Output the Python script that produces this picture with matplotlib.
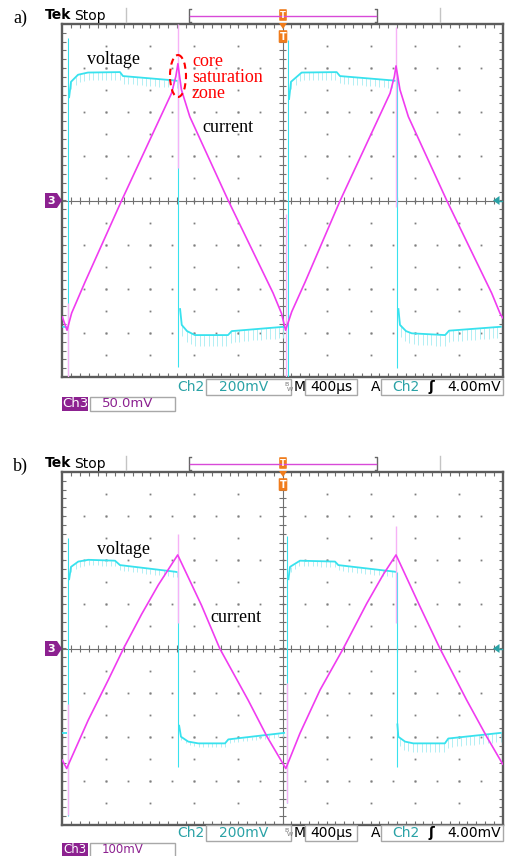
import numpy as np
import matplotlib.pyplot as plt
from matplotlib.patches import Rectangle, Ellipse, Polygon, FancyBboxPatch

W, H = 505, 856

CYAN = '#38e2ee'
CYAN_LIGHT = '#a6ecf2'
MAGENTA = '#f03cf0'
PINK = '#f6b2f6'
TEAL = '#2aa2a6'
PURPLE = '#8c2190'
ORANGE = '#f07c1c'
FRAME = '#5c5c5c'
GRIDC = '#7e7e7e'

# time in microseconds (400 us/div, 10 div), amplitude in screen divisions
# ---------------- panel a) ----------------
a_cur_t = [0, 43, 85, 206, 539, 992, 1031, 1050, 1082, 1158, 1507, 1915, 1991, 2028,
           2084, 2205, 2524, 2977, 3016, 3031, 3067, 3143, 3492, 3900, 3976, 4000]
a_cur_v = [-2.64, -2.94, -2.55, -1.85, 0.0, 2.43, 2.81, 3.10, 2.51, 1.90, 0.0, -2.10, -2.56,
           -2.94, -2.52, -1.85, 0.0, 2.43, 2.81, 3.05, 2.51, 1.90, 0.0, -2.10, -2.56, -2.66]
a_up1_t = [61, 79, 143, 233, 524, 551, 1024, 1046]
a_up1_v = [2.32, 2.69, 2.85, 2.90, 2.91, 2.82, 2.72, 2.71]
a_up2_t = [2059, 2077, 2174, 2492, 2522, 3006, 3026]
a_up2_v = [2.28, 2.69, 2.90, 2.91, 2.82, 2.72, 2.71]
a_lo0_t = [0, 40]
a_lo0_v = [-2.86, -2.87]
a_lo1_t = [1069, 1085, 1133, 1205, 1505, 1539, 2023]
a_lo1_v = [-2.44, -2.82, -2.96, -3.05, -3.05, -2.96, -2.86]
a_lo2_t = [3052, 3067, 3122, 3174, 3477, 3513, 3991]
a_lo2_v = [-2.44, -2.82, -2.96, -3.01, -3.05, -2.95, -2.86]
a_vspike_t = [52, 1054, 2047, 3037]
a_vspike_hi = [3.68, 2.85, 3.64, 2.85]
a_vspike_lo = [-3.96, -3.78, -4.0, -3.80]
a_ispike_t = [52, 1054, 2032, 3031]
a_ispike_hi = [-2.32, 4.0, -0.30, 3.94]
a_ispike_lo = [-4.0, 0.74, -4.0, -0.14]

# ---------------- panel b) ----------------
b_cur_t = [0, 40, 61, 236, 418, 556, 721, 872, 1048, 1069, 1264, 1430, 1688, 1860, 2030,
           2159, 2341, 2552, 2765, 2916, 3031, 3067, 3249, 3430, 3673, 3855, 4000]
b_cur_v = [-2.53, -2.72, -2.60, -1.62, -0.71, 0.0, 0.78, 1.44, 2.12, 2.01, 0.98, 0.0, -1.17,
           -2.00, -2.72, -1.92, -0.94, 0.0, 1.02, 1.68, 2.12, 1.93, 0.95, 0.0, -1.17, -2.00, -2.62]
b_up1_t = [61, 79, 145, 236, 479, 524, 1024, 1046]
b_up1_v = [1.55, 1.85, 1.97, 2.01, 1.99, 1.89, 1.74, 1.73]
b_up2_t = [2053, 2068, 2159, 2477, 2507, 3022, 3031]
b_up2_v = [1.55, 1.85, 1.99, 1.97, 1.89, 1.74, 1.73]
b_lo0_t = [0, 40]
b_lo0_v = [-1.91, -1.91]
b_lo1_t = [1060, 1078, 1144, 1235, 1478, 1508, 2023]
b_lo1_v = [-1.73, -2.00, -2.11, -2.15, -2.15, -2.06, -1.91]
b_lo2_t = [3043, 3052, 3113, 3188, 3475, 3506, 3991]
b_lo2_v = [-1.70, -2.00, -2.11, -2.15, -2.15, -2.04, -1.91]
b_vspike_t = [49, 1048, 2044, 3037]
b_vspike_hi = [2.51, 1.73, 2.54, 1.73]
b_vspike_lo = [-3.80, -2.68, -3.50, -2.68]
b_ispike_t = [52, 1048, 2041, 3031]
b_ispike_hi = [-1.25, 2.60, -0.78, 2.78]
b_ispike_lo = [-3.78, 0.58, -3.50, 0.58]


def graticule(ax):
    ax.set_xlim(0, 4000)
    ax.set_ylim(-4, 4)
    ax.set_xticks([])
    ax.set_yticks([])
    ax.set_facecolor('white')
    for s in ax.spines.values():
        s.set_color(FRAME)
        s.set_linewidth(1.7)
    dy = np.arange(-4, 4.01, 0.5)
    for k in [1, 2, 3, 4, 6, 7, 8, 9]:
        ax.plot([k * 400] * len(dy), dy, ls='', marker='s', ms=1.3, mew=0, color=GRIDC)
    dx = np.arange(0, 4001, 200)
    for j in [-3, -2, -1, 1, 2, 3]:
        ax.plot(dx, [j] * len(dx), ls='', marker='s', ms=1.3, mew=0, color=GRIDC)
    ax.axhline(0, color='#707070', lw=0.8)
    ax.axvline(2000, color='#707070', lw=0.8)
    tx = np.arange(80, 4000, 80)
    ty = np.arange(-3.8, 3.9, 0.2)
    kw = dict(color='#707070', lw=0.8)
    ax.vlines(tx, -0.07, 0.07, **kw)
    ax.vlines(tx, -4, -3.92, **kw)
    ax.vlines(tx, 3.92, 4, **kw)
    ax.hlines(ty, 2000 - 28, 2000 + 28, **kw)
    ax.hlines(ty, 0, 30, **kw)
    ax.hlines(ty, 3970, 4000, **kw)


def hairs(ax, t, v, length, step=40):
    ts = np.arange(t[0] + step / 2, t[-1], step)
    vs = np.interp(ts, t, v)
    ax.vlines(ts, vs - length, vs, color=CYAN_LIGHT, lw=0.6, zorder=2)


def traces(ax, cur_t, cur_v, segs, hair_len, vsp, isp):
    for (t, v), hl in zip(segs, hair_len):
        if hl > 0:
            hairs(ax, t, v, hl)
        ax.plot(t, v, color=CYAN, lw=1.3, zorder=3, solid_capstyle='butt')
    ax.vlines(vsp[0], vsp[2], vsp[1], color=CYAN, lw=0.8, zorder=3)
    ax.vlines(isp[0], isp[2], isp[1], color=PINK, lw=1.0, zorder=4)
    ax.plot(cur_t, cur_v, color=MAGENTA, lw=1.2, zorder=5)


fig = plt.figure(figsize=(W / 100, H / 100), dpi=100)

ax_a = fig.add_axes([62.3 / W, 1 - 377 / H, 440.4 / W, 353 / H])
ax_b = fig.add_axes([62.3 / W, 1 - 825 / H, 440.4 / W, 353 / H])
graticule(ax_a)
graticule(ax_b)

traces(ax_a, a_cur_t, a_cur_v,
       [(a_lo0_t, a_lo0_v), (a_up1_t, a_up1_v), (a_lo1_t, a_lo1_v),
        (a_up2_t, a_up2_v), (a_lo2_t, a_lo2_v)],
       [0, 0.17, 0.25, 0.17, 0.25],
       (a_vspike_t, a_vspike_hi, a_vspike_lo), (a_ispike_t, a_ispike_hi, a_ispike_lo))
traces(ax_b, b_cur_t, b_cur_v,
       [(b_lo0_t, b_lo0_v), (b_up1_t, b_up1_v), (b_lo1_t, b_lo1_v),
        (b_up2_t, b_up2_v), (b_lo2_t, b_lo2_v)],
       [0, 0.12, 0.08, 0.12, 0.2],
       (b_vspike_t, b_vspike_hi, b_vspike_lo), (b_ispike_t, b_ispike_hi, b_ispike_lo))

# overlay in pixel coordinates for the scope chrome and annotations
ov = fig.add_axes([0, 0, 1, 1], zorder=10)
ov.set_xlim(0, W)
ov.set_ylim(H, 0)
ov.axis('off')

SERIF = 'Liberation Serif'
SANS = 'DejaVu Sans'


def header(dy, label):
    ov.text(13, 18 + dy, label, family=SERIF, fontsize=13, va='center')
    ov.text(45, 15 + dy, 'Tek', family=SANS, fontweight='bold', fontsize=10, va='center')
    ov.text(74, 15.5 + dy, 'Stop', family=SANS, fontsize=10, va='center')
    for x in (126, 440):
        ov.plot([x, x], [8 + dy, 22 + dy], color='#c4c4c4', lw=1)
    ov.plot([191, 189, 189, 191], [9 + dy, 9 + dy, 22 + dy, 22 + dy], color='#666', lw=1)
    ov.plot([375, 377, 377, 375], [9 + dy, 9 + dy, 22 + dy, 22 + dy], color='#666', lw=1)
    ov.plot([190, 376], [15.5 + dy, 15.5 + dy], color='#d84ad8', lw=1)
    ov.add_patch(FancyBboxPatch((280, 10 + dy), 6, 10, boxstyle='round,pad=0.8',
                                fc=ORANGE, ec='none'))
    ov.text(283, 15 + dy, 'T', color='white', fontsize=6, fontweight='bold',
            ha='center', va='center', family=SANS)
    ov.add_patch(Polygon([(279, 23 + dy), (287, 23 + dy), (283, 29 + dy)], fc=ORANGE, ec='none'))
    ov.add_patch(FancyBboxPatch((279.5, 31 + dy), 7, 11, boxstyle='round,pad=0.8',
                                fc=ORANGE, ec='none'))
    ov.text(283, 36.5 + dy, 'T', color='white', fontsize=7, fontweight='bold',
            ha='center', va='center', family=SANS)
    # channel 3 ground marker and trigger level arrow
    yc = 200.5 + dy
    ov.add_patch(Polygon([(45, yc - 7.5), (57, yc - 7.5), (62, yc), (57, yc + 7.5), (45, yc + 7.5)],
                         fc=PURPLE, ec='none'))
    ov.text(51, yc, '3', color='white', fontsize=8, fontweight='bold',
            ha='center', va='center', family=SANS)
    ov.add_patch(Polygon([(493, yc), (499.5, yc - 4.5), (499.5, yc + 4.5)], fc=TEAL, ec='none'))
    ov.plot([499, 502], [yc, yc], color=TEAL, lw=1)


def status(dy, ch3_scale, ch3_size):
    yc = 387 + dy
    box = dict(fc='white', ec='#a8a8a8', lw=1)
    ov.text(177, yc, 'Ch2', color=TEAL, fontsize=10, va='center', family=SANS)
    ov.add_patch(Rectangle((206, 379 + dy), 85, 16, **box))
    ov.text(244, yc, '200mV', color=TEAL, fontsize=10, ha='center', va='center', family=SANS)
    ov.text(286.5, yc - 3, 'B', color='#777', fontsize=4.5, ha='center', va='center', family=SANS)
    ov.text(289.5, yc + 2, 'W', color='#777', fontsize=4.5, ha='center', va='center', family=SANS)
    ov.text(300, yc, 'M', color='black', fontsize=10, ha='center', va='center', family=SANS)
    ov.add_patch(Rectangle((305, 379 + dy), 52, 16, **box))
    ov.text(331, yc, '400µs', color='black', fontsize=10, ha='center', va='center', family=SANS)
    ov.text(376, yc, 'A', color='black', fontsize=10, ha='center', va='center', family=SANS)
    ov.add_patch(Rectangle((381, 379 + dy), 122, 16, **box))
    ov.text(392, yc, 'Ch2', color=TEAL, fontsize=10, va='center', family=SANS)
    ov.text(431, yc, 'ʃ', color='black', fontsize=10, fontweight='bold', ha='center',
            va='center', family=SANS)
    ov.text(501, yc, '4.00mV', color='black', fontsize=10, ha='right', va='center', family=SANS)
    y3 = 403.5 + dy
    ov.add_patch(Rectangle((62, 397 + dy), 26, 13.5, fc=PURPLE, ec='none'))
    ov.text(75, y3, 'Ch3', color='white', fontsize=ch3_size, ha='center', va='center', family=SANS)
    ov.add_patch(Rectangle((90, 397 + dy), 85, 13.5, **box))
    ov.text(102, y3, ch3_scale, color=PURPLE, fontsize=ch3_size, va='center', family=SANS)


header(0, 'a)')
header(448, 'b)')
status(0, '50.0mV', 9.5)
status(446, '100mV', 8.5)

# annotations
ov.text(87, 59, 'voltage', family=SERIF, fontsize=13, va='center')
ov.text(202, 127, 'current', family=SERIF, fontsize=13, va='center')
ov.text(192, 61, 'core', family=SERIF, fontsize=13, va='center', color='red')
ov.text(192, 77, 'saturation', family=SERIF, fontsize=13, va='center', color='red')
ov.text(192, 93, 'zone', family=SERIF, fontsize=13, va='center', color='red')
ov.add_patch(Ellipse((178, 76), 16, 42, fill=False, ec='red', lw=1.5, ls=(0, (3, 2))))
ov.text(97, 549, 'voltage', family=SERIF, fontsize=13, va='center')
ov.text(210, 618, 'current', family=SERIF, fontsize=13, va='center')

fig.savefig('out.png', dpi=100)
